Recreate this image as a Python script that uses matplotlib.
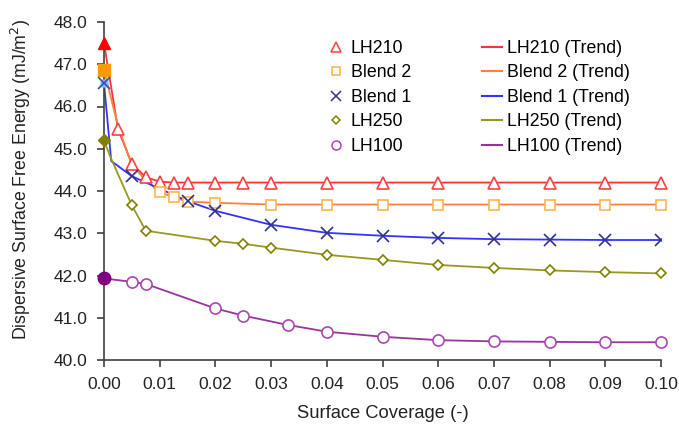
import matplotlib as mpl
import matplotlib.pyplot as plt
from matplotlib.lines import Line2D

mpl.use('Agg')
mpl.rc("font", family="Liberation Sans", size=12.5)

# measured points (hollow markers) and the first point at zero coverage (filled)
lh210_x = [0.0025, 0.005, 0.0075, 0.01, 0.0125, 0.015, 0.02, 0.025, 0.03,
           0.04, 0.05, 0.06, 0.07, 0.08, 0.09, 0.10]
lh210_y = [45.47, 44.64, 44.33, 44.22, 44.2, 44.2, 44.2, 44.2, 44.2,
           44.2, 44.2, 44.2, 44.2, 44.2, 44.2, 44.2]
lh210_y0 = 47.5

blend2_x = [0.01, 0.0125, 0.015, 0.02, 0.03, 0.04, 0.05, 0.06, 0.07, 0.08, 0.09, 0.10]
blend2_y = [43.98, 43.85, 43.75, 43.72, 43.68, 43.68, 43.68, 43.68, 43.68, 43.68, 43.68, 43.68]
blend2_y0 = 46.86

blend1_x = [0.005, 0.015, 0.02, 0.03, 0.04, 0.05, 0.06, 0.07, 0.08, 0.09, 0.10]
blend1_y = [44.35, 43.76, 43.53, 43.2, 43.01, 42.94, 42.89, 42.86, 42.85, 42.84, 42.84]
blend1_y0 = 46.55

lh250_x = [0.005, 0.0075, 0.02, 0.025, 0.03, 0.04, 0.05, 0.06, 0.07, 0.08, 0.09, 0.10]
lh250_y = [43.66, 43.06, 42.82, 42.75, 42.66, 42.49, 42.37, 42.25, 42.18, 42.12, 42.08, 42.05]
lh250_y0 = 45.2

lh100_x = [0.005, 0.0075, 0.02, 0.025, 0.033, 0.04, 0.05, 0.06, 0.07, 0.08, 0.09, 0.10]
lh100_y = [41.85, 41.80, 41.22, 41.05, 40.83, 40.67, 40.55, 40.47, 40.44, 40.43, 40.42, 40.42]
lh100_y0 = 41.93

# trend curves
lh210_tx = [0.0, 0.0025, 0.005, 0.0075, 0.01, 0.0125, 0.10]
lh210_ty = [47.5, 45.47, 44.64, 44.33, 44.22, 44.2, 44.2]
blend2_tx = [0.0, 0.0025, 0.005, 0.0075, 0.01, 0.0125, 0.015, 0.02, 0.03, 0.10]
blend2_ty = [46.86, 45.55, 44.62, 44.25, 43.98, 43.85, 43.75, 43.72, 43.68, 43.68]
blend1_tx = [0.0, 0.0013, 0.005, 0.015, 0.02, 0.03, 0.04, 0.05, 0.06, 0.07, 0.08, 0.09, 0.10]
blend1_ty = [46.55, 44.71, 44.35, 43.76, 43.53, 43.2, 43.01, 42.94, 42.89, 42.86, 42.85, 42.84, 42.84]
lh250_tx = [0.0, 0.0011, 0.005, 0.0075, 0.02, 0.025, 0.03, 0.04, 0.05, 0.06, 0.07, 0.08, 0.09, 0.10]
lh250_ty = [45.2, 44.82, 43.66, 43.06, 42.82, 42.75, 42.66, 42.49, 42.37, 42.25, 42.18, 42.12, 42.08, 42.05]
lh100_tx = [0.0, 0.005, 0.0075, 0.02, 0.025, 0.033, 0.04, 0.05, 0.06, 0.07, 0.08, 0.09, 0.10]
lh100_ty = [41.93, 41.85, 41.80, 41.22, 41.05, 40.83, 40.67, 40.55, 40.47, 40.44, 40.43, 40.42, 40.42]

names = ["LH210", "Blend 2", "Blend 1", "LH250", "LH100"]
xs = [lh210_x, blend2_x, blend1_x, lh250_x, lh100_x]
ys = [lh210_y, blend2_y, blend1_y, lh250_y, lh100_y]
y0s = [lh210_y0, blend2_y0, blend1_y0, lh250_y0, lh100_y0]
txs = [lh210_tx, blend2_tx, blend1_tx, lh250_tx, lh100_tx]
tys = [lh210_ty, blend2_ty, blend1_ty, lh250_ty, lh100_ty]

markers = ["^", "s", "x", "D", "o"]
msizes = [8, 7.5, 8, 5.5, 8]
mcolors = ["#FF4040", "#FFB44A", "#2E3192", "#808000", "#A848B0"]
fillcolors = ["#FF0000", "#FF9900", "#8FB8F0", "#808000", "#800080"]
lcolors = ["#FF3333", "#FF8040", "#3333FF", "#999920", "#9933A0"]

fig = plt.figure(figsize=(6.79, 4.24), dpi=100)
ax = fig.add_axes([104/679, 1-360/424, (661-104)/679, (360-22)/424])

for i in range(5):
    ax.plot(txs[i], tys[i], color=lcolors[i], lw=1.3, zorder=2)
for i in range(5):
    if markers[i] == "x":
        ax.plot(xs[i], ys[i], ls="none", marker="x", ms=msizes[i],
                mec=mcolors[i], mew=1.2, zorder=3)
        ax.plot([0.0], [y0s[i]], ls="none", marker="s", ms=6, mfc=fillcolors[i],
                mec="none", zorder=3, clip_on=False)
        ax.plot([0.0], [y0s[i]], ls="none", marker="x", ms=msizes[i],
                mec="#3050C0", mew=1.2, zorder=4, clip_on=False)
    else:
        ax.plot(xs[i], ys[i], ls="none", marker=markers[i], ms=msizes[i],
                mfc="white", mec=mcolors[i], mew=1.2, zorder=3, clip_on=False)
        ax.plot([0.0], [y0s[i]], ls="none", marker=markers[i], ms=msizes[i] + 1,
                mfc=fillcolors[i], mec=fillcolors[i], zorder=4, clip_on=False)

ax.set_xlim(0, 0.10)
ax.set_ylim(40, 48)
ax.set_xticks([i / 100 for i in range(11)])
ax.set_xticklabels([f"{i/100:.2f}" for i in range(11)])
ax.set_yticks(range(40, 49))
ax.set_yticklabels([f"{v:.1f}" for v in range(40, 49)])
for s in ["top", "right"]:
    ax.spines[s].set_visible(False)
for s in ["left", "bottom"]:
    ax.spines[s].set_color("#404040")
    ax.spines[s].set_linewidth(1.2)
ax.tick_params(direction="out", length=5, width=1.2, color="#404040",
               labelcolor="#222222", labelsize=12.5)
ax.tick_params(axis="x", pad=7)
ax.tick_params(axis="y", pad=7)
ax.set_xlabel("Surface Coverage (-)", fontsize=13.2, color="#222222", labelpad=9.5)
ax.set_ylabel("Dispersive Surface Free Energy (mJ/m$^2$)", fontsize=12.8,
              color="#222222")
ax.yaxis.set_label_coords(-0.128, 0.535)

handles = []
for i in range(5):
    if markers[i] == "x":
        h = Line2D([], [], ls="none", marker="x", ms=6.5, mec=mcolors[i], mew=1.1)
    else:
        h = Line2D([], [], ls="none", marker=markers[i], ms=msizes[i] - 1.5,
                   mfc="white", mec=mcolors[i], mew=1.1)
    handles.append(h)
for i in range(5):
    handles.append(Line2D([], [], color=lcolors[i], lw=1.5))
labels = names + [n + " (Trend)" for n in names]
fig.legend(handles, labels, ncol=2, loc="upper left",
           bbox_to_anchor=(326/679, 1-40/424), frameon=False,
           borderpad=0, borderaxespad=0, handlelength=1.1, handletextpad=0.3,
           columnspacing=4.0, labelspacing=0.42, fontsize=12.8)

fig.savefig("out.png", dpi=100)
